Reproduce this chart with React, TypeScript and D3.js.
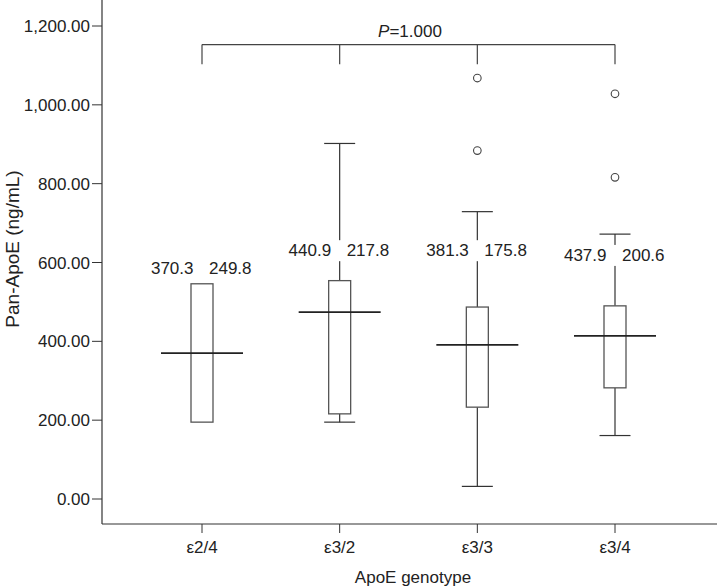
import React from "react";
import * as d3 from "d3";

const categories = ["ε2/4", "ε3/2", "ε3/3", "ε3/4"];
const q1 = [195, 216, 233, 282];
const q3 = [546, 554, 487, 490];
const medians = [370, 474, 391, 414];
const whiskerLow: (number | null)[] = [null, 195, 32, 161];
const whiskerHigh: (number | null)[] = [null, 902, 729, 672];
const outliers: number[][] = [[], [], [1068, 884], [1028, 816]];
const meanLabels = ["370.3", "440.9", "381.3", "437.9"];
const sdLabels = ["249.8", "217.8", "175.8", "200.6"];
const labelLevels = [571, 616, 616, 604];
const yTicks = [0, 200, 400, 600, 800, 1000, 1200];
const pText = "=1.000";
const bracketTop = 1153;
const bracketBottom = 1103;

const W = 717;
const H = 586;
const FONT = "'Liberation Sans', Arial, Helvetica, sans-serif";

export default function App() {
  const y = d3.scaleLinear().domain([0, 1200]).range([499, 26]);
  const x = d3.scalePoint<string>().domain(categories).range([202, 615]);
  const axisX = 102;
  const axisY = 524;
  const boxW = 22;
  const capW = 31;
  const medW = 82;
  const fmt = d3.format(",.2f");
  const axisColor = "#333";
  const boxColor = "#555";

  return (
    <svg
      width={W}
      height={H}
      style={{ position: "absolute", left: 0, top: 0, background: "#fff" }}
      fontFamily={FONT}
    >
      <rect x={0} y={0} width={W} height={H} fill="#fff" />
      {/* axes */}
      <line x1={axisX} y1={0} x2={axisX} y2={axisY} stroke={axisColor} strokeWidth={1.2} />
      <line x1={axisX} y1={axisY} x2={W} y2={axisY} stroke={axisColor} strokeWidth={1.2} />
      {yTicks.map((t) => (
        <g key={t}>
          <line x1={axisX - 10} x2={axisX} y1={y(t)} y2={y(t)} stroke={axisColor} strokeWidth={1} />
          <text x={axisX - 12} y={y(t) + 6} textAnchor="end" fontSize={17} fill="#222">
            {fmt(t)}
          </text>
        </g>
      ))}
      {categories.map((c) => (
        <g key={c}>
          <line x1={x(c)} x2={x(c)} y1={axisY} y2={axisY + 9} stroke={axisColor} strokeWidth={1} />
          <text x={x(c)} y={axisY + 29} textAnchor="middle" fontSize={17} fill="#222">
            {c}
          </text>
        </g>
      ))}
      <text x={413} y={583} textAnchor="middle" fontSize={17} fill="#222">
        ApoE genotype
      </text>
      <text
        transform={`translate(19, 249) rotate(-90)`}
        textAnchor="middle"
        fontSize={19}
        fill="#222"
      >
        Pan-ApoE (ng/mL)
      </text>

      {/* boxes */}
      {categories.map((c, i) => {
        const cx = x(c) as number;
        const wl = whiskerLow[i];
        const wh = whiskerHigh[i];
        return (
          <g key={c}>
            {wh !== null && (
              <>
                <line x1={cx} x2={cx} y1={y(q3[i])} y2={y(wh)} stroke="#333" strokeWidth={1.2} />
                <line x1={cx - capW / 2} x2={cx + capW / 2} y1={y(wh)} y2={y(wh)} stroke="#333" strokeWidth={1.2} />
              </>
            )}
            {wl !== null && (
              <>
                <line x1={cx} x2={cx} y1={y(q1[i])} y2={y(wl)} stroke="#333" strokeWidth={1.2} />
                <line x1={cx - capW / 2} x2={cx + capW / 2} y1={y(wl)} y2={y(wl)} stroke="#333" strokeWidth={1.2} />
              </>
            )}
            <rect
              x={cx - boxW / 2}
              y={y(q3[i])}
              width={boxW}
              height={y(q1[i]) - y(q3[i])}
              fill="#fff"
              stroke={boxColor}
              strokeWidth={1.3}
            />
            <line
              x1={cx - medW / 2}
              x2={cx + medW / 2}
              y1={y(medians[i])}
              y2={y(medians[i])}
              stroke="#222"
              strokeWidth={1.8}
            />
            {outliers[i].map((o, j) => (
              <circle key={j} cx={cx} cy={y(o)} r={3.8} fill="#fff" stroke="#444" strokeWidth={1.1} />
            ))}
            <rect x={cx - 53} y={y(labelLevels[i]) - 16} width={108} height={21} fill="#fff" />
            <text x={cx - 8.5} y={y(labelLevels[i])} textAnchor="end" fontSize={17} fill="#222">
              {meanLabels[i]}
            </text>
            <text x={cx + 7} y={y(labelLevels[i])} textAnchor="start" fontSize={17} fill="#222">
              {sdLabels[i]}
            </text>
          </g>
        );
      })}

      {/* significance bracket */}
      <line
        x1={x(categories[0])}
        x2={x(categories[categories.length - 1])}
        y1={y(bracketTop)}
        y2={y(bracketTop)}
        stroke="#444"
        strokeWidth={1.2}
      />
      {categories.map((c) => (
        <line
          key={c}
          x1={x(c)}
          x2={x(c)}
          y1={y(bracketTop)}
          y2={y(bracketBottom)}
          stroke="#444"
          strokeWidth={1.2}
        />
      ))}
      <text x={410} y={37} textAnchor="middle" fontSize={17} fill="#222">
        <tspan fontStyle="italic">P</tspan>
        {pText}
      </text>
    </svg>
  );
}
